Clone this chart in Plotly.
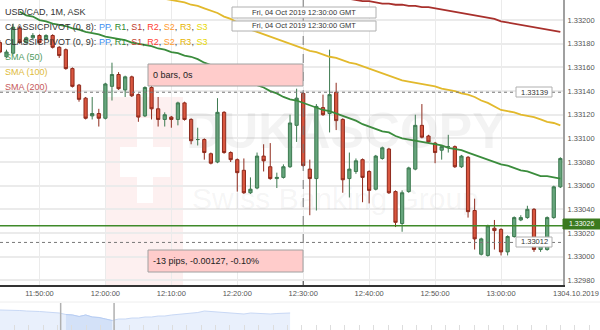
import plotly.graph_objects as go
import pandas as pd

# ---------------- data ----------------
times = pd.date_range("2019-10-04 11:44:00", periods=86, freq="min")

open_ = [1.33181, 1.33169, 1.33172, 1.33193, 1.33181, 1.33185, 1.33187, 1.33184, 1.33187, 1.33177,
         1.33175, 1.33159, 1.33145, 1.33134, 1.33119, 1.33121, 1.33117, 1.33144, 1.33154, 1.33141,
         1.33152, 1.33137, 1.33119, 1.33143, 1.33125, 1.33116, 1.33118, 1.33116, 1.33130, 1.33116,
         1.33099, 1.33099, 1.33087, 1.33080, 1.33122, 1.33088, 1.33082, 1.33073, 1.33054, 1.33058,
         1.33085, 1.33076, 1.33066, 1.33067, 1.33076, 1.33111, 1.33138, 1.33074, 1.33066, 1.33126,
         1.33121, 1.33139, 1.33116, 1.33066, 1.33072, 1.33082, 1.33072, 1.33057, 1.33083, 1.33091,
         1.33055, 1.33028, 1.33055, 1.33074, 1.33111, 1.33102, 1.33096, 1.33090, 1.33093, 1.33093,
         1.33076, 1.33084, 1.33039, 1.33002, 1.33001, 1.33024, 1.33023, 1.33004, 1.33017, 1.33031,
         1.33033, 1.33040, 1.33006, 1.33006, 1.33033, 1.33059]
high = [1.33183, 1.33175, 1.33197, 1.33195, 1.33186, 1.33189, 1.33188, 1.33188, 1.33188, 1.33178,
        1.33176, 1.33160, 1.33146, 1.33135, 1.33135, 1.33125, 1.33147, 1.33164, 1.33156, 1.33153,
        1.33153, 1.33138, 1.33144, 1.33145, 1.33135, 1.33122, 1.33119, 1.33131, 1.33131, 1.33117,
        1.33109, 1.33100, 1.33088, 1.33134, 1.33123, 1.33089, 1.33083, 1.33083, 1.33067, 1.33088,
        1.33095, 1.33096, 1.33071, 1.33078, 1.33120, 1.33142, 1.33139, 1.33082, 1.33129, 1.33137,
        1.33175, 1.33147, 1.33117, 1.33088, 1.33083, 1.33083, 1.33073, 1.33086, 1.33093, 1.33092,
        1.33056, 1.33056, 1.33076, 1.33120, 1.33129, 1.33103, 1.33097, 1.33094, 1.33103, 1.33094,
        1.33086, 1.33085, 1.33049, 1.33016, 1.33027, 1.33031, 1.33024, 1.33018, 1.33034, 1.33035,
        1.33043, 1.33041, 1.33011, 1.33034, 1.33060, 1.33084]
low = [1.33172, 1.33168, 1.33171, 1.33180, 1.33180, 1.33184, 1.33180, 1.33183, 1.33176, 1.33168,
       1.33158, 1.33143, 1.33131, 1.33116, 1.33116, 1.33110, 1.33116, 1.33132, 1.33141, 1.33135,
       1.33135, 1.33114, 1.33118, 1.33116, 1.33110, 1.33110, 1.33109, 1.33111, 1.33115, 1.33095,
       1.33094, 1.33082, 1.33078, 1.33079, 1.33087, 1.33080, 1.33055, 1.33053, 1.33053, 1.33057,
       1.33072, 1.33065, 1.33058, 1.33066, 1.33075, 1.33097, 1.33076, 1.33035, 1.33039, 1.33119,
       1.33105, 1.33107, 1.33054, 1.33050, 1.33070, 1.33046, 1.33045, 1.33056, 1.33082, 1.33053,
       1.33025, 1.33021, 1.33054, 1.33073, 1.33100, 1.33096, 1.33079, 1.33082, 1.33088, 1.33075,
       1.33075, 1.33033, 1.33006, 1.33001, 1.33000, 1.33006, 1.33001, 1.33001, 1.33016, 1.33030,
       1.33032, 1.33004, 1.33004, 1.33005, 1.33032, 1.33058]
close = [1.33173, 1.33173, 1.33194, 1.33181, 1.33185, 1.33187, 1.33181, 1.33187, 1.33177, 1.33170,
         1.33159, 1.33144, 1.33133, 1.33117, 1.33121, 1.33117, 1.33146, 1.33154, 1.33142, 1.33152,
         1.33136, 1.33118, 1.33143, 1.33125, 1.33116, 1.33120, 1.33116, 1.33130, 1.33116, 1.33098,
         1.33099, 1.33088, 1.33079, 1.33122, 1.33088, 1.33082, 1.33071, 1.33054, 1.33057, 1.33085,
         1.33081, 1.33066, 1.33067, 1.33076, 1.33113, 1.33134, 1.33077, 1.33066, 1.33127, 1.33120,
         1.33137, 1.33115, 1.33065, 1.33074, 1.33081, 1.33067, 1.33056, 1.33085, 1.33092, 1.33054,
         1.33029, 1.33054, 1.33075, 1.33111, 1.33101, 1.33097, 1.33088, 1.33093, 1.33093, 1.33076,
         1.33085, 1.33038, 1.33015, 1.33015, 1.33026, 1.33022, 1.33004, 1.33017, 1.33033, 1.33033,
         1.33040, 1.33006, 1.33010, 1.33033, 1.33059, 1.33083]

sma50 = [None, None, None, 1.33207, 1.33204, 1.33203, 1.33200, 1.33199, 1.33197, 1.33196,
         1.33195, 1.33193, 1.33192, 1.33190, 1.33189, 1.33188, 1.33186, 1.33185, 1.33184, 1.33183,
         1.33181, 1.33180, 1.33179, 1.33178, 1.33176, 1.33175, 1.33173, 1.33172, 1.33170, 1.33169,
         1.33167, 1.33164, 1.33162, 1.33160, 1.33157, 1.33155, 1.33153, 1.33150, 1.33148, 1.33145,
         1.33143, 1.33140, 1.33138, 1.33135, 1.33133, 1.33132, 1.33130, 1.33128, 1.33126, 1.33124,
         1.33123, 1.33121, 1.33119, 1.33117, 1.33115, 1.33112, 1.33110, 1.33108, 1.33106, 1.33105,
         1.33102, 1.33100, 1.33099, 1.33098, 1.33097, 1.33096, 1.33095, 1.33094, 1.33092, 1.33091,
         1.33090, 1.33088, 1.33086, 1.33084, 1.33082, 1.33080, 1.33078, 1.33077, 1.33075, 1.33073,
         1.33072, 1.33070, 1.33068, 1.33068, 1.33067, 1.33066]
sma100 = [None] * 25 + [
         1.33218, 1.33217, 1.33216, 1.33215, 1.33213, 1.33212, 1.33210, 1.33208, 1.33206, 1.33203,
         1.33201, 1.33198, 1.33195, 1.33192, 1.33190, 1.33188, 1.33186, 1.33184, 1.33182, 1.33180,
         1.33178, 1.33176, 1.33174, 1.33173, 1.33171, 1.33169, 1.33168, 1.33166, 1.33164, 1.33163,
         1.33161, 1.33159, 1.33157, 1.33155, 1.33153, 1.33151, 1.33149, 1.33148, 1.33147, 1.33146,
         1.33145, 1.33144, 1.33142, 1.33141, 1.33140, 1.33138, 1.33137, 1.33135, 1.33132, 1.33130,
         1.33127, 1.33124, 1.33123, 1.33122, 1.33120, 1.33119, 1.33118, 1.33116, 1.33114, 1.33113,
         1.33111]
sma200 = [None] * 53 + [
         1.33218, 1.33217, 1.33216, 1.33216, 1.33215, 1.33214, 1.33214, 1.33213, 1.33213, 1.33212,
         1.33212, 1.33211, 1.33211, 1.33210, 1.33209, 1.33208, 1.33207, 1.33206, 1.33205, 1.33204,
         1.33203, 1.33202, 1.33201, 1.33199, 1.33198, 1.33197, 1.33196, 1.33195, 1.33194, 1.33193,
         1.33192, 1.33191, 1.33190]

y_ticks = [1.32980, 1.33000, 1.33020, 1.33040, 1.33060, 1.33080, 1.33100,
           1.33120, 1.33140, 1.33160, 1.33180, 1.33200]
x_tick_times = ["2019-10-04 11:50:00", "2019-10-04 12:00:00", "2019-10-04 12:10:00",
                "2019-10-04 12:20:00", "2019-10-04 12:30:00", "2019-10-04 12:40:00",
                "2019-10-04 12:50:00", "2019-10-04 13:00:00"]
x_tick_text = ["11:50:00", "12:00:00", "12:10:00", "12:20:00", "12:30:00",
               "12:40:00", "12:50:00", "13:00:00"]
x_end_label = "1304.10.2019"

nav_values = [20, 20, 19.5, 19.5, 19, 19, 18.5, 18, 17.5, 17, 15.5, 15, 13.5, 15, 13,
              12.5, 11, 9.5, 11, 11, 12, 12, 13, 13, 14, 14, 15, 15.5, 16, 16.5,
              17.5, 19, 18.5, 18, 17.5, 17, 16.5, 16, 17, 16.5, 16.5, 16, 16.5, 17, 17]
nav_sel = (9.2, 17.3)

crosshair_time = "2019-10-04 12:30:00"
crosshair_price = 1.33139
measure_price = 1.33012
current_price = 1.33026
date_label = "Fri, 04 Oct 2019 12:30:00 GMT"
bars_label = "0 bars, 0s"
pips_label = "-13 pips, -0.00127, -0.10%"
watermark_main = "DUKASCOPY"
watermark_sub = "Swiss Banking Group"

# ---------------- figure ----------------
W, H = 600, 330
PX_R = 563  # right edge of the price pane
FONT = "Liberation Sans, Arial, sans-serif"


def px(x):
    return x / W


def py(y):
    return 1 - y / H


fig = go.Figure()

fig.add_trace(go.Candlestick(
    x=times, open=open_, high=high, low=low, close=close,
    increasing=dict(line=dict(color="#3d7a50", width=1), fillcolor="#66a57c"),
    decreasing=dict(line=dict(color="#8f2a1c", width=1), fillcolor="#d9563f"),
    whiskerwidth=0, hoverinfo="skip", showlegend=False,
))
for vals, col in ((sma200, "#a8302c"), (sma100, "#e2b92c"), (sma50, "#3a8c3c")):
    fig.add_trace(go.Scatter(x=times, y=vals, mode="lines", line=dict(color=col, width=1.8),
                             hoverinfo="skip", showlegend=False, connectgaps=False))

nav_x = list(range(len(nav_values)))
fig.add_trace(go.Scatter(x=nav_x, y=nav_values, xaxis="x2", yaxis="y2", mode="lines",
                         fill="tozeroy", fillcolor="#e9f0fc", line=dict(color="#c8d8f5", width=1),
                         hoverinfo="skip", showlegend=False))
sel_x = [i for i in nav_x if nav_sel[0] <= i <= nav_sel[1] + 0.5]
fig.add_trace(go.Scatter(x=sel_x, y=[nav_values[i] for i in sel_x], xaxis="x2", yaxis="y2",
                         mode="lines", fill="tozeroy", fillcolor="#d3e1f8",
                         line=dict(color="#b7cdf3", width=1), hoverinfo="skip", showlegend=False))

start = pd.Timestamp("2019-10-04 11:44:01")
end = pd.Timestamp("2019-10-04 13:09:24")

fig.update_layout(
    width=W, height=H, margin=dict(l=0, r=0, t=0, b=0),
    paper_bgcolor="white", plot_bgcolor="white",
    font=dict(family=FONT, color="#444"),
    xaxis=dict(domain=[0, PX_R / W], range=[start, end], type="date",
               rangeslider=dict(visible=False), showgrid=True, gridcolor="#ebebeb", gridwidth=1,
               tickvals=x_tick_times, ticktext=x_tick_text, tickfont=dict(size=7.5, color="#555"),
               showline=True, linecolor="#333", linewidth=1.5, zeroline=False, ticks=""),
    yaxis=dict(domain=[1 - 285 / H, 1], range=[1.32976, 1.33217], side="right",
               tickvals=y_ticks, ticktext=[f"{v:.5f}" for v in y_ticks],
               tickfont=dict(size=7.5, color="#555"), showgrid=True, gridcolor="#ebebeb",
               gridwidth=1.5, showline=True, linecolor="#a0a0a0", linewidth=2, zeroline=False,
               ticks="outside", ticklen=1, tickcolor="rgba(0,0,0,0)"),
    xaxis2=dict(domain=[0, 1], anchor="y2", range=[0, 91], showgrid=False, zeroline=False,
                showticklabels=False, ticks="inside", ticklen=5, tickcolor="#dddddd",
                tick0=0, dtick=2.18, showline=False),
    yaxis2=dict(domain=[0, 30 / H], anchor="x2", range=[0, 30], visible=False),
)

shapes = []
# watermark (below grid)
shapes.append(dict(type="rect", xref="paper", yref="paper", x0=px(105), x1=px(183),
                   y0=py(285), y1=py(97), fillcolor="#fdf0f0", line=dict(width=0), layer="below"))
shapes.append(dict(type="rect", xref="paper", yref="paper", x0=px(137), x1=px(153),
                   y0=py(203), y1=py(118), fillcolor="#ffffff", line=dict(width=0), layer="below"))
shapes.append(dict(type="rect", xref="paper", yref="paper", x0=px(120), x1=px(170),
                   y0=py(177), y1=py(147), fillcolor="#ffffff", line=dict(width=0), layer="below"))
# price lines
shapes.append(dict(type="line", xref="paper", yref="y", x0=0, x1=px(PX_R), y0=current_price,
                   y1=current_price, line=dict(color="#3f8a2a", width=1.5)))
for p in (crosshair_price, measure_price):
    shapes.append(dict(type="line", xref="paper", yref="y", x0=0, x1=px(PX_R), y0=p, y1=p,
                       line=dict(color="#777", width=1, dash="dot")))
shapes.append(dict(type="line", xref="x", yref="paper", x0=crosshair_time, x1=crosshair_time,
                   y0=1, y1=py(245), line=dict(color="#777", width=1, dash="dash")))
shapes.append(dict(type="line", xref="x", yref="paper", x0=crosshair_time, x1=crosshair_time,
                   y0=py(281), y1=py(285), line=dict(color="#333", width=1)))
# navigator
shapes.append(dict(type="line", xref="paper", yref="paper", x0=0, x1=1, y0=py(302), y1=py(302),
                   line=dict(color="#eeeeee", width=1)))
for s in nav_sel:
    shapes.append(dict(type="line", xref="x2", yref="paper", x0=s, x1=s, y0=0, y1=py(303),
                       line=dict(color="#b0b0b0", width=1.5)))
# boxes
box_specs = [
    (148, 303, 64, 86, "#ffcccb", "#a0a0a0"),
    (148, 303, 250, 272, "#ffcccb", "#a0a0a0"),
    (232, 376, 7, 18, "#ffffff", "#b0b0b0"),
    (232, 376, 21, 31, "#ffffff", "#b0b0b0"),
    (516, 552, 87, 97, "#ffffff", "#b0b0b0"),
    (516, 552, 237, 247, "#ffffff", "#b0b0b0"),
    (563, 600, 219, 229, "#3b7a1f", "#3b7a1f"),
]
for x0, x1, y0, y1, fc, lc in box_specs:
    shapes.append(dict(type="rect", xref="paper", yref="paper", x0=px(x0), x1=px(x1),
                       y0=py(y1), y1=py(y0), fillcolor=fc, line=dict(color=lc, width=1)))
fig.update_layout(shapes=shapes)

ann = []


def text(x, y, s, size=8, color="#333", xanchor="left", family=FONT, bold=False):
    if bold:
        s = f"<b>{s}</b>"
    ann.append(dict(xref="paper", yref="paper", x=px(x), y=py(y), text=s, showarrow=False,
                    xanchor=xanchor, yanchor="middle", borderpad=0,
                    font=dict(size=size, color=color, family=family)))


def pivot(n):
    parts = [("PP", "#3d8ef0"), ("R1", "#2f8a2f"), ("S1", "#c0392b"), ("R2", "#ff3b30"),
             ("S2", "#ff9a2e"), ("R3", "#e6b400"), ("S3", "#e8d800")]
    body = ", ".join(f"<span style='color:{c}'>{t}</span>" for t, c in parts)
    return f"CLASSICPIVOT (0, {n}): " + body


# watermark text (drawn first)
text(345, 131, watermark_main, 50, "rgba(120,120,120,0.085)", "center", FONT, True)
text(335, 198, watermark_sub, 30, "rgba(120,120,120,0.075)", "center")

text(4, 12, "USD/CAD, 1M, ASK", 9, "#333")
text(4, 27, pivot(8), 9, "#333")
text(4, 42, pivot(9), 9, "#333")
text(4, 57, "SMA (50)", 9, "#4e9a5e")
text(4, 72, "SMA (100)", 9, "#e0bb3a")
text(4, 87, "SMA (200)", 9, "#c65a5a")

text(152, 75, bars_label, 9, "#222")
text(152, 261, pips_label, 9, "#222")
text(304, 12.5, date_label, 7.5, "#333", "center")
text(304, 26, date_label, 7.5, "#333", "center")
text(534, 92, f"{crosshair_price:.5f}", 7.5, "#333", "center")
text(534, 242, f"{measure_price:.5f}", 7.5, "#333", "center")
text(581.5, 223.8, f"{current_price:.5f}", 7, "#ffffff", "center")
text(576, 293.5, x_end_label, 7.5, "#555", "center")

fig.update_layout(annotations=ann)
fig.write_html("out.html")
